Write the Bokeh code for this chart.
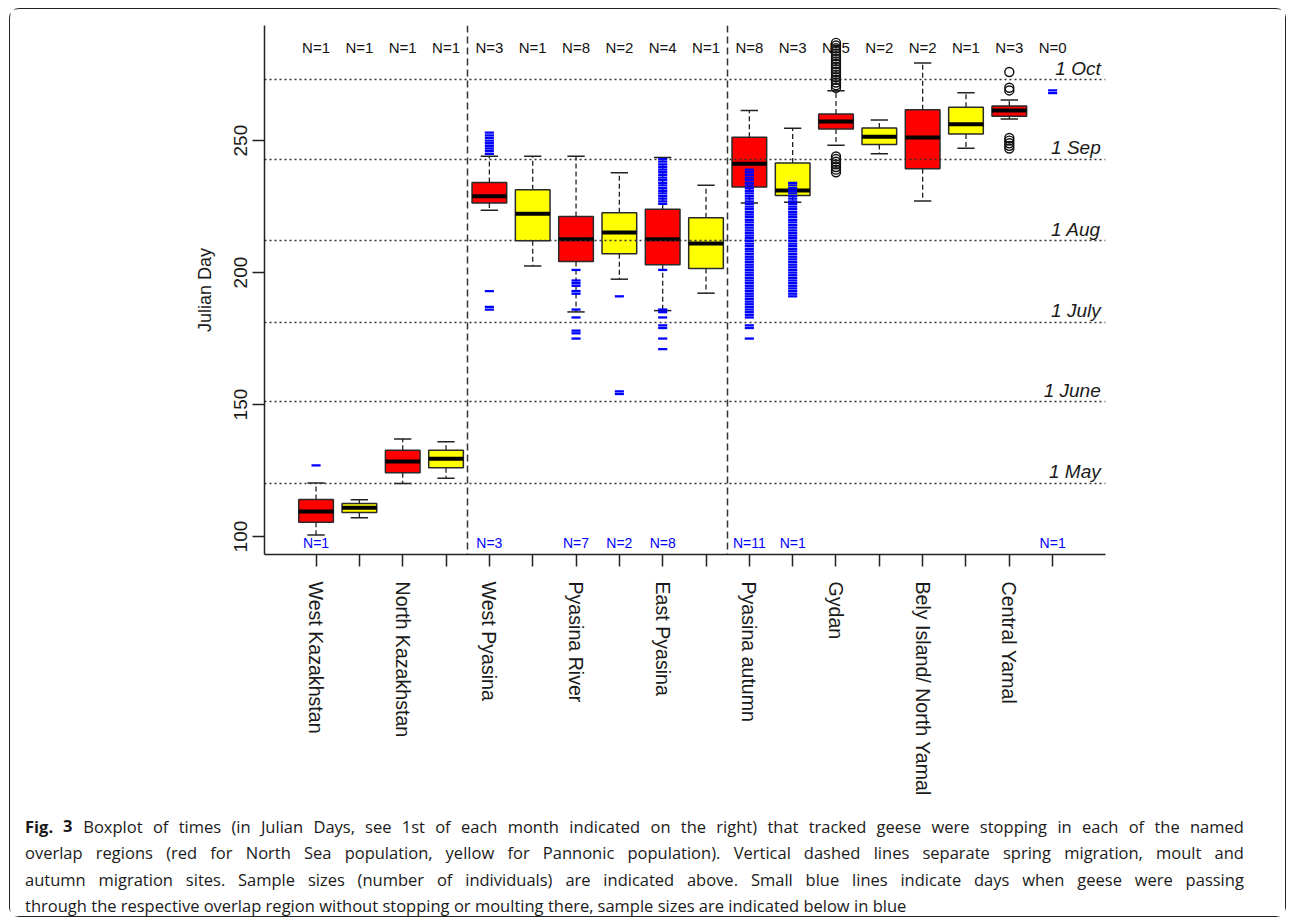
from bokeh.plotting import figure
from bokeh.layouts import column
from bokeh.models import Range1d, FixedTicker, ColumnDataSource
from bokeh.core.properties import value
from bokeh.embed import file_html
from bokeh.resources import INLINE

# ---------------- data ----------------
regions = ["West Kazakhstan", "North Kazakhstan", "West Pyasina", "Pyasina River",
           "East Pyasina", "Pyasina autumn", "Gydan", "Bely Island/ North Yamal",
           "Central Yamal"]
region_pos = [1, 3, 5, 7, 9, 11, 13, 15, 17]
all_pos = [1, 2, 3, 4, 5, 6, 7, 8, 9, 10, 11, 12, 13, 14, 15, 16, 17, 18]

# boxes (positions 1..17; 18 has no stopping geese)
box_pos = [1, 2, 3, 4, 5, 6, 7, 8, 9, 10, 11, 12, 13, 14, 15, 16, 17]
population = ["North Sea", "Pannonic"] * 8 + ["North Sea"]
whisker_low = [100.6, 107.1, 120.1, 122.1, 223.6, 202.5, 185.1, 197.5, 185.6, 192.2,
               226.4, 226.6, 248.2, 245.0, 227.1, 247.1, 258.2]
q1 = [105.4, 109.1, 124.2, 126.1, 226.4, 212.1, 204.2, 207.1, 203.0, 201.5,
      232.4, 229.2, 254.4, 248.5, 239.3, 252.5, 259.2]
median = [109.5, 110.9, 128.4, 129.5, 228.9, 222.3, 212.6, 215.2, 212.6, 211.0,
          241.2, 231.1, 257.2, 251.5, 251.2, 256.2, 261.4]
q3 = [114.0, 112.5, 132.7, 132.7, 234.1, 231.4, 221.2, 222.7, 224.0, 220.8,
      251.3, 241.5, 260.1, 254.8, 261.7, 262.6, 263.1]
whisker_high = [120.3, 113.9, 137.0, 135.9, 244.1, 244.1, 244.1, 237.8, 243.6, 233.1,
                261.4, 254.7, 268.9, 257.8, 279.4, 268.1, 265.4]

# outliers (open circles)
outliers_gydan = [287, 286, 285, 284, 283, 282, 281, 280, 279, 278, 277, 276, 275, 274,
                  273, 272, 271, 270, 244, 243, 242, 241, 240, 239, 238]
outliers_central_yamal = [276, 270, 269, 251, 250, 249, 248, 247]

# sample sizes of stopping geese (above) and passing geese (below)
n_stopping = [1, 1, 1, 1, 3, 1, 8, 2, 4, 1, 8, 3, 5, 2, 2, 1, 3, 0]
n_passing_pos = [1, 5, 7, 8, 9, 11, 12, 18]
n_passing = [1, 3, 7, 2, 8, 11, 1, 1]

# days of geese passing without stopping (small blue lines)
pass_west_kazakhstan = [127]
pass_west_pyasina = [253, 252, 251, 250, 249, 248, 247, 246, 245, 193, 187, 186]
pass_pyasina_river_ns = [201, 197, 196, 195, 193, 192, 186, 183, 178, 177, 175]
pass_pyasina_river_pa = [191, 155, 154]
pass_east_pyasina = [243, 242, 241, 240, 239, 238, 237, 236, 235, 234, 233, 232, 231,
                     230, 229, 228, 227, 226, 201, 186, 185, 183, 180, 179, 175, 171]
pass_pyasina_autumn_ns = [239, 238, 237, 236, 235, 234, 233, 232, 231, 230, 229, 228,
                          227, 226, 225, 224, 223, 222, 221, 220, 219, 218, 217, 216,
                          215, 214, 213, 212, 211, 210, 209, 208, 207, 206, 205, 204,
                          203, 202, 201, 200, 199, 198, 197, 196, 195, 194, 193, 192,
                          191, 190, 189, 188, 187, 186, 185, 184, 183, 180, 179, 175]
pass_pyasina_autumn_pa = [234, 233, 232, 231, 230, 229, 228, 227, 226, 225, 224, 223,
                          222, 221, 220, 219, 218, 217, 216, 215, 214, 213, 212, 211,
                          210, 209, 208, 207, 206, 205, 204, 203, 202, 201, 200, 199,
                          198, 197, 196, 195, 194, 193, 192, 191]
pass_central_yamal_pa = [269, 268]

# first day of each month (Julian day)
month_days = [120, 151, 181, 212, 243, 273]
month_names = ["1 May", "1 June", "1 July", "1 Aug", "1 Sep", "1 Oct"]
section_breaks = [4.5, 10.5]

caption_bold = "Fig. 3"
caption_lines = [
    "Boxplot of times (in Julian Days, see 1st of each month indicated on the right) that tracked geese were stopping in each of the named",
    "overlap regions (red for North Sea population, yellow for Pannonic population). Vertical dashed lines separate spring migration, moult and",
    "autumn migration sites. Sample sizes (number of individuals) are indicated above. Small blue lines indicate days when geese were passing",
    "through the respective overlap region without stopping or moulting there, sample sizes are indicated below in blue",
]

# ---------------- styling ----------------
FONT = "Liberation Sans"
CAP_FONT = "Open Sans"
pop_color = {"North Sea": "#FF0000", "Pannonic": "#FFFF00"}
BOX_W = 0.8
CAP_W = 0.4
BLUE = "#0000FF"
W = 1275
H_MAIN = 800
H_CAP = 107

p = figure(width=W, height=H_MAIN,
           x_range=Range1d(-0.19, 19.22), y_range=Range1d(93.2, 293.6),
           output_backend="svg", toolbar_location=None, title=None,
           min_border_left=254, min_border_right=180,
           min_border_top=16, min_border_bottom=255)
p.frame_align = False
p.grid.visible = False
p.outline_line_color = None
p.background_fill_color = "white"
p.border_fill_color = "white"

# axes
for ax in (p.xaxis[0], p.yaxis[0]):
    ax.axis_line_color = "#222222"
    ax.axis_line_width = 1.5
    ax.major_tick_line_color = "#222222"
    ax.major_tick_line_width = 1.5
    ax.major_tick_out = 12
    ax.major_tick_in = 0
    ax.minor_tick_line_color = None
    ax.major_label_text_font = FONT
    ax.major_label_text_color = "#1a1a1a"
    ax.major_label_orientation = "vertical"

p.xaxis.ticker = FixedTicker(ticks=all_pos)
overrides = {pos: "" for pos in all_pos}
for pos, name in zip(region_pos, regions):
    overrides[pos] = name
p.xaxis.major_label_overrides = overrides
p.xaxis.major_label_standoff = 15
p.xaxis.major_label_text_font_size = "19.6px"

p.yaxis.ticker = FixedTicker(ticks=[100, 150, 200, 250])
p.yaxis.major_label_standoff = 5
p.yaxis.major_label_text_font_size = "19px"
p.yaxis.axis_label = "Julian Day"
p.yaxis.axis_label_text_font = FONT
p.yaxis.axis_label_text_font_size = "18px"
p.yaxis.axis_label_text_font_style = "normal"
p.yaxis.axis_label_text_color = "#1a1a1a"
p.yaxis.axis_label_standoff = 17

# boxes
src = ColumnDataSource(dict(
    x=box_pos,
    xl=[x - BOX_W / 2 for x in box_pos], xr=[x + BOX_W / 2 for x in box_pos],
    cl=[x - CAP_W / 2 for x in box_pos], cr=[x + CAP_W / 2 for x in box_pos],
    lw=whisker_low, q1=q1, med=median, q3=q3, hw=whisker_high,
    color=[pop_color[k] for k in population],
))
p.segment(x0="x", x1="x", y0="q3", y1="hw", source=src, line_color="#222222",
          line_width=1.3, line_dash="5 3")
p.segment(x0="x", x1="x", y0="q1", y1="lw", source=src, line_color="#222222",
          line_width=1.3, line_dash="5 3")
p.segment(x0="cl", x1="cr", y0="hw", y1="hw", source=src, line_color="#222222", line_width=1.5)
p.segment(x0="cl", x1="cr", y0="lw", y1="lw", source=src, line_color="#222222", line_width=1.5)
p.vbar(x="x", width=BOX_W, bottom="q1", top="q3", source=src, fill_color="color",
       line_color="#2a2a2a", line_width=1.5)
p.segment(x0="xl", x1="xr", y0="med", y1="med", source=src, line_color="black",
          line_width=4, line_cap="butt")

# reference lines
p.hspan(y=month_days, line_color="#333333", line_width=1.6, line_dash="2 3")
p.vspan(x=section_breaks, line_color="#333333", line_width=1.5, line_dash="7 4")

x_end = p.x_range.end
p.text(x=[x_end - 0.11] * len(month_days), y=[d + 0.5 for d in month_days], text=month_names,
       text_align="right", text_baseline="bottom", text_font=value(FONT),
       text_font_style="italic", text_font_size="19px", text_color="#1a1a1a")

# sample sizes
p.text(x=all_pos, y=[285.2] * len(all_pos), text=[f"N={n}" for n in n_stopping],
       text_align="center", text_baseline="middle", text_font=value(FONT),
       text_font_size="15px", text_color="#111111")
p.text(x=n_passing_pos, y=[97.5] * len(n_passing_pos), text=[f"N={n}" for n in n_passing],
       text_align="center", text_baseline="middle", text_font=value(FONT),
       text_font_size="14px", text_color=BLUE)

# outliers
out_x = [13] * len(outliers_gydan) + [17] * len(outliers_central_yamal)
out_y = outliers_gydan + outliers_central_yamal
p.scatter(x=out_x, y=out_y, marker="circle", size=9, fill_color=None,
          line_color="#111111", line_width=1.4)

# passing days
pass_groups = [(1, pass_west_kazakhstan), (5, pass_west_pyasina),
               (7, pass_pyasina_river_ns), (8, pass_pyasina_river_pa),
               (9, pass_east_pyasina), (11, pass_pyasina_autumn_ns),
               (12, pass_pyasina_autumn_pa), (18, pass_central_yamal_pa)]
px, py = [], []
for pos, days in pass_groups:
    px += [pos] * len(days)
    py += days
p.rect(x=px, y=py, width=0.21, height=2.3, height_units="screen",
       fill_color=BLUE, line_color=None)

# ---------------- caption panel (justified text) ----------------
cap = figure(width=W, height=H_CAP, x_range=Range1d(0, W), y_range=Range1d(H_CAP, 0),
             output_backend="svg", toolbar_location=None, title=None,
             x_axis_type=None, y_axis_type=None, min_border=0)
cap.frame_align = False
cap.grid.visible = False
cap.outline_line_color = None
cap.background_fill_color = "white"
cap.border_fill_color = "white"

CAP_SIZE = 16.5
# approximate Open Sans advance widths (em/1000) for layout of justified lines
_adv = {" ": 260, ".": 266, ",": 245, "(": 296, ")": 296, "/": 367, "-": 322,
        "A": 633, "B": 648, "C": 631, "D": 729, "E": 556, "F": 516, "G": 728, "H": 738,
        "I": 279, "J": 267, "K": 614, "L": 519, "M": 903, "N": 754, "O": 779, "P": 602,
        "Q": 779, "R": 618, "S": 549, "T": 553, "U": 728, "V": 595, "W": 926, "X": 577,
        "Y": 560, "Z": 571,
        "a": 556, "b": 613, "c": 476, "d": 613, "e": 561, "f": 337, "g": 548, "h": 614,
        "i": 253, "j": 253, "k": 525, "l": 253, "m": 930, "n": 614, "o": 604, "p": 613,
        "q": 613, "r": 408, "s": 477, "t": 353, "u": 614, "v": 501, "w": 778, "x": 523,
        "y": 501, "z": 463}


def text_width(s, size, bold=False):
    w = sum(_adv.get(ch, 572) for ch in s) * size / 1000.0
    return w * (1.06 if bold else 1.0)


cap_left = 14.5
cap_right = 1233.5
cap_y = [16.5, 43.0, 69.5, 95.5]

norm_x, norm_y, norm_t = [], [], []
bold_x, bold_y, bold_t = [], [], []
for li, line in enumerate(caption_lines):
    words = line.split(" ")
    flags = [False] * len(words)
    if li == 0:
        words = caption_bold.split(" ") + words
        flags = [True, True] + flags
    widths = [text_width(w_, CAP_SIZE, b) for w_, b in zip(words, flags)]
    natural_gap = text_width(" ", CAP_SIZE)
    if li < len(caption_lines) - 1:
        gap = (cap_right - cap_left - sum(widths)) / (len(words) - 1)
    else:
        gap = natural_gap
    xx = cap_left
    for w_, b, wd in zip(words, flags, widths):
        if b:
            bold_x.append(xx); bold_y.append(cap_y[li]); bold_t.append(w_)
        else:
            norm_x.append(xx); norm_y.append(cap_y[li]); norm_t.append(w_)
        xx += wd + gap

cap.text(x=bold_x, y=bold_y, text=bold_t, text_font=value(CAP_FONT),
         text_font_style="bold", text_font_size=f"{CAP_SIZE}px", text_baseline="middle",
         text_color="#1a1a1a")
cap.text(x=norm_x, y=norm_y, text=norm_t, text_font=value(CAP_FONT),
         text_font_size=f"{CAP_SIZE}px", text_baseline="middle", text_color="#1a1a1a")

layout = column(p, cap, spacing=0,
                styles={"border": "1.5px solid #222222", "border-radius": "10px",
                        "margin": "8px 0 0 9px"})

open("out.html", "w").write(file_html(layout, INLINE))
